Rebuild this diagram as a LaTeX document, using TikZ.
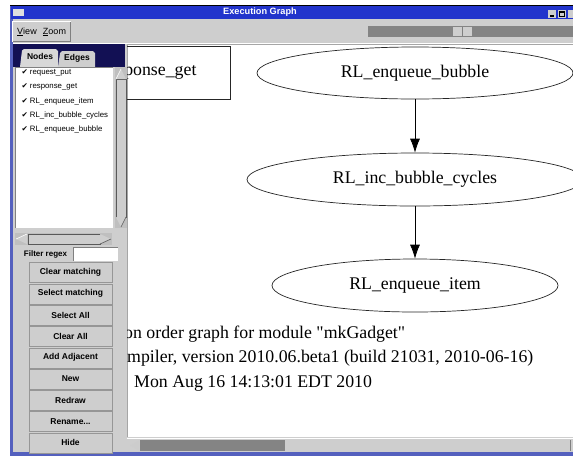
\documentclass[tikz,border=0pt]{standalone}
\usepackage{fontspec}
\setmainfont{Liberation Serif}
\setsansfont{Liberation Sans}
\newfontfamily\checkfont{DejaVu Sans}
\newfontfamily\gvfont{Liberation Serif}
\usepackage{tikz}
\usetikzlibrary{arrows.meta,shapes.geometric}

\definecolor{TitleBlue}{RGB}{34,52,204}
\definecolor{FrameBlue}{RGB}{84,96,190}
\definecolor{TabNavy}{RGB}{18,16,84}
\definecolor{PanelGrey}{RGB}{206,206,206}
\definecolor{TroughGrey}{RGB}{132,132,132}
\definecolor{EdgeGrey}{RGB}{150,150,150}

\tikzset{
  gvnode/.style={ellipse, draw=black!85, line width=0.7pt, inner sep=0pt, font=\gvfont\fontsize{17.8}{20}\selectfont},
  gvbox/.style={rectangle, draw=black!85, line width=0.7pt, inner sep=0pt, font=\gvfont\fontsize{17.8}{20}\selectfont},
  gvedge/.style={-{Latex[length=14pt,width=10pt]}, line width=0.7pt},
  gvtext/.style={anchor=base west, inner sep=0pt, font=\gvfont\fontsize{17.8}{20}\selectfont},
  uibutton/.style={draw=EdgeGrey, fill=PanelGrey, minimum width=83pt, minimum height=20pt, inner sep=0pt, font=\sffamily\bfseries\fontsize{8.5}{10}\selectfont},
  listitem/.style={anchor=west, inner sep=0pt, font=\sffamily\fontsize{7.8}{9}\selectfont},
  uilabel/.style={inner sep=0pt, font=\sffamily\fontsize{9}{11}\selectfont}
}

\begin{document}
\begin{tikzpicture}[x=1pt,y=-1pt]
  \useasboundingbox (0,0) rectangle (573,456);
  \fill[white] (0,0) rectangle (573,456);

  % window frame and title bar
  \fill[FrameBlue] (10,5) rectangle (573,456);
  \fill[TitleBlue] (11,6) rectangle (573,19);
  \draw[black, line width=0.8pt] (10,5.4) -- (573,5.4);
  \fill[gray!25] (13,9) rectangle (24,16);
  \node[text=white, inner sep=0pt, font=\sffamily\bfseries\fontsize{9.2}{11}\selectfont] (title) at (260,12.5) {Execution Graph};
  \fill[PanelGrey] (548,10) rectangle (556,18);
  \fill[black] (550,15) rectangle (554,16.5);
  \fill[PanelGrey] (558,10) rectangle (566,18);
  \draw[black, line width=0.6pt] (559.5,11.5) rectangle (564.5,16.5);
  \draw[black, line width=1.2pt] (559.5,12) -- (564.5,12);
  \fill[PanelGrey] (568,10) rectangle (573,18);

  % menu bar
  \fill[PanelGrey] (13,19) rectangle (573,452);
  \draw[white, line width=1pt] (12.5,41.5) -- (12.5,21.5) -- (70.5,21.5);
  \draw[gray, line width=1pt] (70.5,21.5) -- (70.5,41.5) -- (12.5,41.5);
  \node[uilabel] (menuview) at (27,32) {\underline{V}iew};
  \node[uilabel] (menuzoom) at (54.5,32) {\underline{Z}oom};
  \fill[TroughGrey] (368,26) rectangle (573,37);
  \fill[PanelGrey] (453,27) rectangle (472,36);
  \draw[gray] (462.5,27) -- (462.5,36);
  \draw[white] (13,43.5) -- (573,43.5);

  % left panel: tabs and node list
  \fill[TabNavy] (13,44) rectangle (125,67);
  \fill[PanelGrey!80!white] (20,67) -- (22,50.5) -- (24,49) -- (56,49) -- (58,51) -- (58,67) -- cycle;
  \fill[PanelGrey] (58,67) -- (60,53) -- (62,51) -- (93,51) -- (95,53) -- (95,67) -- cycle;
  \node[inner sep=0pt, font=\sffamily\bfseries\fontsize{8.5}{10}\selectfont] (tabnodes) at (40,56) {Nodes};
  \node[inner sep=0pt, font=\sffamily\bfseries\fontsize{8.5}{10}\selectfont] (tabedges) at (77,58) {Edges};
  \fill[white] (15,67) rectangle (113,228);
  \draw[gray] (15,228) -- (15,67) -- (113,67);
  \node[listitem] (itemput) at (21.5,73) {{\checkfont\fontsize{7.5}{8}\selectfont ✔}\hspace{2pt}request\_put};
  \node[listitem] (itemresp) at (21.5,87) {{\checkfont\fontsize{7.5}{8}\selectfont ✔}\hspace{2pt}response\_get};
  \node[listitem] (itemitem) at (21.5,101.5) {{\checkfont\fontsize{7.5}{8}\selectfont ✔}\hspace{2pt}RL\_enqueue\_item};
  \node[listitem] (itemcycles) at (21.5,115) {{\checkfont\fontsize{7.5}{8}\selectfont ✔}\hspace{2pt}RL\_inc\_bubble\_cycles};
  \node[listitem] (itembubble) at (21.5,129) {{\checkfont\fontsize{7.5}{8}\selectfont ✔}\hspace{2pt}RL\_enqueue\_bubble};

  % list scrollbars
  \fill[gray!50] (115,67) rectangle (127,228);
  \fill[PanelGrey] (116,79) rectangle (126,217);
  \draw[gray!70!black, line width=0.5pt] (116,79) rectangle (126,217);
  \fill[PanelGrey] (116,79) -- (121,69) -- (126,79) -- cycle;
  \draw[white, line width=0.6pt] (116,79) -- (121,69);
  \fill[PanelGrey] (116,217) -- (121,227) -- (126,217) -- cycle;
  \draw[gray!70!black, line width=0.6pt] (121,227) -- (126,217);
  \fill[gray!50] (15,233) rectangle (112,245);
  \fill[PanelGrey] (28,234) rectangle (100,244);
  \draw[gray!70!black, line width=0.5pt] (28,234) rectangle (100,244);
  \fill[PanelGrey] (27,234) -- (16,239) -- (27,244) -- cycle;
  \draw[white, line width=0.6pt] (27,234) -- (16,239);
  \fill[PanelGrey] (100,234) -- (111,239) -- (100,244) -- cycle;
  \draw[gray!70!black, line width=0.6pt] (111,239) -- (100,244);

  % filter and buttons
  \node[inner sep=0pt, font=\sffamily\bfseries\fontsize{8}{10}\selectfont] (filter) at (45.5,254) {Filter regex};
  \fill[white] (73,247) rectangle (118,261);
  \draw[gray] (73,261) -- (73,247) -- (118,247);
  \node[uibutton] (btnclear) at (70.5,272.5) {Clear matching};
  \node[uibutton] (btnselect) at (70.5,293.8) {Select matching};
  \node[uibutton] (btnselall) at (70.5,315.1) {Select All};
  \node[uibutton] (btnclearall) at (70.5,336.4) {Clear All};
  \node[uibutton] (btnadjacent) at (70.5,357.7) {Add Adjacent};
  \node[uibutton] (btnnew) at (70.5,379) {New};
  \node[uibutton] (btnredraw) at (70.5,400.3) {Redraw};
  \node[uibutton] (btnrename) at (70.5,421.6) {Rename...};
  \node[uibutton] (btnhide) at (70.5,442.9) {Hide};

  % canvas
  \fill[white] (127,44) rectangle (573,437);
  \draw[gray!70] (127,437) -- (127,44) -- (573,44);
  \fill[PanelGrey] (127,437) rectangle (573,452);
  \draw[white] (127,438) -- (573,438);
  \fill[TroughGrey] (140,440) rectangle (285,451);
  \fill[gray!40] (130,445.5) -- (139,440.5) -- (139,450.5) -- cycle;
  \draw[gray] (570,440) -- (570,451);

  \begin{scope}
    \clip (127,44) rectangle (573,437);
    \node[gvbox, minimum width=160pt, minimum height=53pt] (respget) at (150,72.5) {response\_get};
    \node[gvnode, minimum width=316pt, minimum height=52pt] (bubble) at (415,73) {RL\_enqueue\_bubble};
    \node[gvnode, minimum width=336pt, minimum height=53pt] (cycles) at (415,179.5) {RL\_inc\_bubble\_cycles};
    \node[gvnode, minimum width=286pt, minimum height=53pt] (item) at (415,285.5) {RL\_enqueue\_item};
    \draw[gvedge] (bubble) -- (cycles);
    \draw[gvedge] (cycles) -- (item);
    \node[gvtext] (caption) at (124,338) {on order graph for module "mkGadget"};
    \node[gvtext] (compiler) at (127,362.5) {mpiler, version 2010.06.beta1 (build 21031, 2010-06-16)};
    \node[gvtext] (stamp) at (134,387) {Mon Aug 16 14:13:01 EDT 2010};
  \end{scope}
\end{tikzpicture}
\end{document}
